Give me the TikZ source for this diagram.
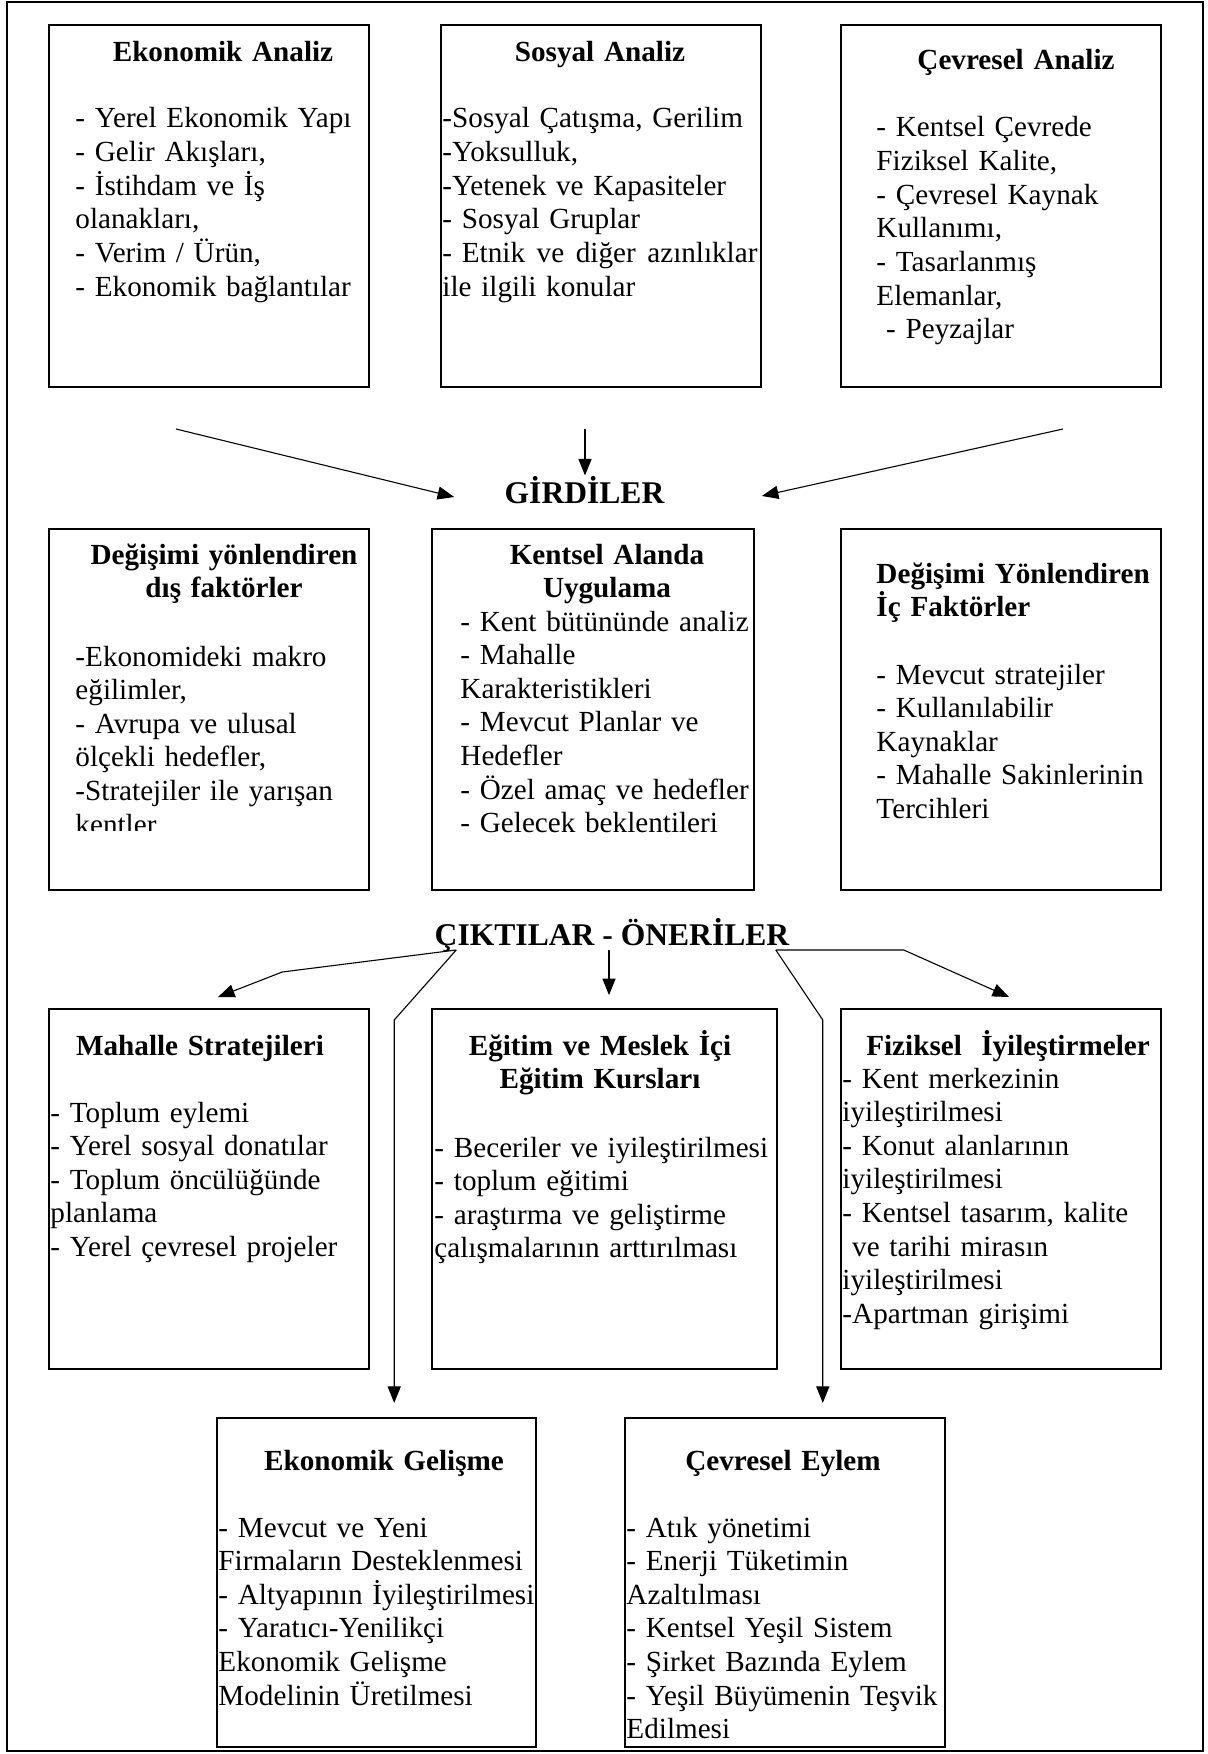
\documentclass[tikz,border=0pt]{standalone}
\usepackage{fontspec}
\setmainfont{Liberation Serif}
\usetikzlibrary{arrows.meta}
\newcommand{\bodysize}{\fontsize{12}{13.85}\selectfont}

\begin{document}
\begin{tikzpicture}[
    x=0.4115pt, y=-0.4115pt,
    frame/.style={draw=black, line width=0.55pt},
    panel/.style={draw=black, line width=0.85pt, anchor=north west, inner sep=0pt},
    head/.style={anchor=base, align=center, text width=150pt, inner sep=0pt,
        font=\bodysize\bfseries},
    body/.style={anchor=base west, align=left, text width=140pt, inner sep=0pt,
        font=\bodysize},
    banner/.style={anchor=base, inner sep=0pt, font=\fontsize{13}{15}\selectfont\bfseries},
    link/.style={line width=0.45pt, -{Triangle[length=6.8pt, width=5.4pt]}}
]
    \useasboundingbox (0,0) rectangle (1208,1754);
    \draw[frame] (7,2) rectangle (1203,1751);

    \node[panel, minimum width=131.7pt, minimum height=149pt] (eko) at (48,24) {};
    \node[panel, minimum width=131.7pt, minimum height=149pt] (sos) at (440,24) {};
    \node[panel, minimum width=131.7pt, minimum height=149pt] (cev) at (840,24) {};
    \node[panel, minimum width=131.7pt, minimum height=148.6pt] (dis) at (48,528) {};
    \node[panel, minimum width=132.5pt, minimum height=148.6pt] (uyg) at (431,528) {};
    \node[panel, minimum width=131.7pt, minimum height=148.6pt] (ic) at (840,528) {};
    \node[panel, minimum width=131.7pt, minimum height=148.1pt] (mah) at (48,1008) {};
    \node[panel, minimum width=142pt, minimum height=148.1pt] (egt) at (431,1008) {};
    \node[panel, minimum width=131.7pt, minimum height=148.1pt] (fiz) at (840,1008) {};
    \node[panel, minimum width=131.3pt, minimum height=135.4pt] (ekg) at (216,1417) {};
    \node[panel, minimum width=131.7pt, minimum height=135.4pt] (cey) at (624,1417) {};

    \node[head] (eko-t) at (223,62) {Ekonomik Analiz};
    \node[body] (eko-b) at (75,128) {- Yerel Ekonomik Yapı\\
        - Gelir Akışları,\\
        - İstihdam ve İş\\
        olanakları,\\
        - Verim / Ürün,\\
        - Ekonomik bağlantılar};

    \node[head] (sos-t) at (600,62) {Sosyal Analiz};
    \node[body, text width=129.6pt] (sos-b) at (442,128) {-Sosyal Çatışma, Gerilim\\
        -Yoksulluk,\\
        -Yetenek ve Kapasiteler\\
        - Sosyal Gruplar\\
        - Etnik\hfill ve\hfill diğer\hfill azınlıklar\\
        ile ilgili konular};

    \node[head] (cev-t) at (1016,70) {Çevresel Analiz};
    \node[body] (cev-b) at (876,137) {- Kentsel Çevrede\\
        Fiziksel Kalite,\\
        - Çevresel Kaynak\\
        Kullanımı,\\
        - Tasarlanmış\\
        Elemanlar,\\
        \ - Peyzajlar};

    \node[banner] (gir) at (584.5,503) {GİRDİLER};

    \node[head] (dis-t) at (224,564) {Değişimi yönlendiren\\dış faktörler};
    \begin{scope}
        \clip (48,528) rectangle (368,830);
        \node[body] (dis-b) at (75,666) {-Ekonomideki makro\\
            eğilimler,\\
            - Avrupa ve ulusal\\
            ölçekli hedefler,\\
            -Stratejiler ile yarışan\\
            kentler};
    \end{scope}

    \node[head] (uyg-t) at (607,564) {Kentsel Alanda\\Uygulama};
    \node[body] (uyg-b) at (460,631) {- Kent bütününde analiz\\
        - Mahalle\\
        Karakteristikleri\\
        - Mevcut Planlar ve\\
        Hedefler\\
        - Özel amaç ve hedefler\\
        - Gelecek beklentileri};

    \node[head, anchor=base west, align=left] (ic-t) at (876,583) {Değişimi Yönlendiren\\İç Faktörler};
    \node[body] (ic-b) at (876,684) {- Mevcut stratejiler\\
        - Kullanılabilir\\
        Kaynaklar\\
        - Mahalle Sakinlerinin\\
        Tercihleri};

    \node[banner] (cik) at (612,945) {ÇIKTILAR - ÖNERİLER};

    \node[head] (mah-t) at (200,1055) {Mahalle Stratejileri};
    \node[body] (mah-b) at (50,1122) {- Toplum eylemi\\
        - Yerel sosyal donatılar\\
        - Toplum öncülüğünde\\
        planlama\\
        - Yerel çevresel projeler};

    \node[head] (egt-t) at (600,1055) {Eğitim ve Meslek İçi\\Eğitim Kursları};
    \node[body] (egt-b) at (434,1157) {- Beceriler ve iyileştirilmesi\\
        - toplum eğitimi\\
        - araştırma ve geliştirme\\
        çalışmalarının arttırılması};

    \node[head] (fiz-t) at (1008,1055) {Fiziksel\ \ İyileştirmeler};
    \node[body] (fiz-b) at (842,1088) {- Kent merkezinin\\
        iyileştirilmesi\\
        - Konut alanlarının\\
        iyileştirilmesi\\
        - Kentsel tasarım, kalite\\
        \ ve tarihi mirasın\\
        iyileştirilmesi\\
        -Apartman girişimi};

    \node[head] (ekg-t) at (384,1470) {Ekonomik Gelişme};
    \node[body] (ekg-b) at (218,1537) {- Mevcut ve Yeni\\
        Firmaların Desteklenmesi\\
        - Altyapının İyileştirilmesi\\
        - Yaratıcı-Yenilikçi\\
        Ekonomik Gelişme\\
        Modelinin Üretilmesi};

    \node[head] (cey-t) at (783,1470) {Çevresel Eylem};
    \node[body] (cey-b) at (626,1537) {- Atık yönetimi\\
        - Enerji Tüketimin\\
        Azaltılması\\
        - Kentsel Yeşil Sistem\\
        - Şirket Bazında Eylem\\
        - Yeşil Büyümenin Teşvik\\
        Edilmesi};

    \coordinate (inA) at (176,429);
    \coordinate (inB) at (585,429);
    \coordinate (inC) at (1063,429);
    \draw[link] (inA) -- ([shift={(-50,-6)}]gir.base west);
    \draw[link] (inB) -- (inB |- gir.north);
    \draw[link] (inC) -- ([shift={(97,-7)}]gir.base east);

    \coordinate (outL) at ([shift={(22,5)}]cik.base west);
    \coordinate (outM) at ([shift={(-3,5)}]cik.base);
    \coordinate (outR) at ([shift={(-14,5)}]cik.base east);
    \coordinate (bendL) at ([shift={(-62,70)}]outL);
    \coordinate (bendR) at ([shift={(47,70)}]outR);
    \draw[link] (outL) -- ++(-174,22) -- ([shift={(9,-11)}]mah.north);
    \draw[link, shorten >=5.8pt] (outL) -- (bendL) -- (bendL |- ekg.north);
    \draw[link, shorten >=5.3pt] (outM) -- (outM |- egt.north);
    \draw[link, shorten >=5.8pt] (outR) -- (bendR) -- (bendR |- cey.north);
    \draw[link] (outR) -- ++(128,0) -- ([shift={(8,-11)}]fiz.north);
\end{tikzpicture}
\end{document}
